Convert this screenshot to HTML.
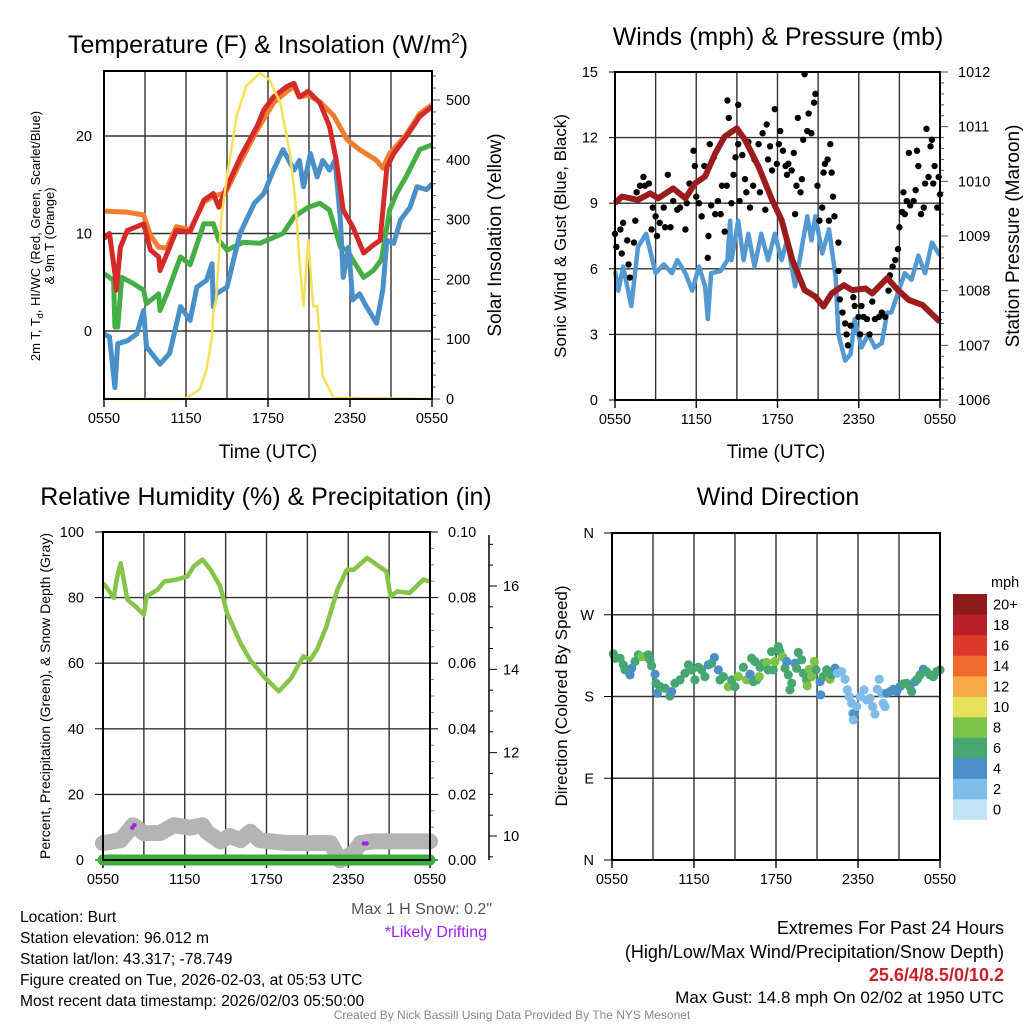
<!DOCTYPE html>
<html><head><meta charset="utf-8"><style>
html,body{margin:0;padding:0;background:#fff;}
svg{display:block;font-family:"Liberation Sans",Arial,sans-serif;}
</style></head><body>
<svg id="chart" width="1024" height="1024" viewBox="0 0 1024 1024" xmlns="http://www.w3.org/2000/svg">
<rect width="1024" height="1024" fill="#fff"/>
<g id="layer"></g>
<!-- titles -->
<text x="268" y="53" font-size="25" text-anchor="middle">Temperature (F) &amp; Insolation (W/m<tspan font-size="15" dy="-10">2</tspan><tspan dy="10">)</tspan></text>
<text x="778" y="45" font-size="25" text-anchor="middle">Winds (mph) &amp; Pressure (mb)</text>
<text x="266" y="505" font-size="25" text-anchor="middle">Relative Humidity (%) &amp; Precipitation (in)</text>
<text x="778" y="505" font-size="25" text-anchor="middle">Wind Direction</text>
<!-- axis titles -->
<text x="268" y="458" font-size="19" text-anchor="middle">Time (UTC)</text>
<text x="776" y="458" font-size="19" text-anchor="middle">Time (UTC)</text>
<text transform="translate(40,236) rotate(-90)" font-size="13" text-anchor="middle">2m T, T<tspan font-size="9" dy="3">d</tspan><tspan dy="-3">, HI/WC (Red, Green, Scarlet/Blue)</tspan></text>
<text transform="translate(54,236) rotate(-90)" font-size="13" text-anchor="middle">&amp; 9m T (Orange)</text>
<text transform="translate(501,235) rotate(-90)" font-size="19" text-anchor="middle">Solar Insolation (Yellow)</text>
<text transform="translate(566,236) rotate(-90)" font-size="17" text-anchor="middle">Sonic Wind &amp; Gust (Blue, Black)</text>
<text transform="translate(1019,236) rotate(-90)" font-size="19" text-anchor="middle">Station Pressure (Maroon)</text>
<text transform="translate(50,696) rotate(-90)" font-size="14" text-anchor="middle">Percent, Precipitation (Green), &amp; Snow Depth (Gray)</text>
<text transform="translate(567,696) rotate(-90)" font-size="17" text-anchor="middle">Direction (Colored By Speed)</text>
<!-- notes -->
<text x="492" y="914" font-size="16" fill="#555" text-anchor="end">Max 1 H Snow: 0.2"</text>
<text x="487" y="937" font-size="16" fill="#a020f0" text-anchor="end">*Likely Drifting</text>
<g font-size="15.6">
<text x="20" y="922">Location: Burt</text>
<text x="20" y="943">Station elevation: 96.012 m</text>
<text x="20" y="964">Station lat/lon: 43.317; -78.749</text>
<text x="20" y="985">Figure created on Tue, 2026-02-03, at 05:53 UTC</text>
<text x="20" y="1006">Most recent data timestamp: 2026/02/03 05:50:00</text>
</g>
<g font-size="18" text-anchor="end">
<text x="1004" y="934">Extremes For Past 24 Hours</text>
<text x="1004" y="958">(High/Low/Max Wind/Precipitation/Snow Depth)</text>
<text x="1004" y="981" fill="#c8202a" font-weight="bold">25.6/4/8.5/0/10.2</text>
<text x="1004" y="1003" font-size="17">Max Gust: 14.8 mph On 02/02 at 1950 UTC</text>
</g>
<text x="512" y="1019" font-size="12" fill="#888" text-anchor="middle">Created By Nick Bassill Using Data Provided By The NYS Mesonet</text>
</svg>
<script>
// ===== Panel 1 data (hours since 0550 UTC) =====
const tempHours=[0,0.4,0.8,0.9,1.2,1.7,2.9,3.4,4,4.1,4.6,5.3,6.3,7.3,8,8.4,8.9,10,11.2,11.7,12.4,13.4,13.9,14.3,14.95,15.8,16.5,17,17.5,18.2,19,19.7,20.2,20.7,21.2,22.1,23.1,24];
const tempValues=[9.5,10,5.9,4.2,8.6,10.3,11,8.3,7.6,6.2,7.9,10.3,10.2,13.4,14.1,12.7,14.5,17.9,21,22.7,24,25.1,25.4,24,24.6,23.4,21,17.5,12.4,10.7,8,8.8,9.3,16.8,18.2,19.9,22,23];
const t9Hours=[0,1.7,2.9,3.4,4,4.6,5.3,6.3,7.3,8,8.9,10,11.2,12.4,13.4,13.9,14.3,14.95,15.8,16.8,17.8,18.7,19.95,20.4,20.9,22.1,23.1,24];
const t9Values=[12.3,12.2,11.9,9.8,8.6,8.5,10.7,10.4,13.2,13.8,14.2,17.4,20.6,23.4,24.6,25.1,24,24.2,23.5,22.1,19.6,18.6,17.5,16.7,18.2,20.1,22.3,23.2];
const tdHours=[0,0.7,0.8,1,1.3,2.1,2.9,3.1,4,4.1,4.6,5.6,6.3,7.3,8,8.4,9,10.2,11.4,13.1,13.9,14.95,15.8,16.5,17.3,17.8,18.2,19,19.7,20.3,20.9,21.4,22.1,23.1,24];
const tdValues=[5.9,5.2,0.4,0.4,5.5,4.9,4.2,2.8,3.8,2.1,3.8,7.6,6.8,11,11,9.3,8.3,9.1,9,10,11.7,12.7,13.1,12.4,8.6,8.3,7.3,5.5,6.2,7.3,12.4,14.1,15.8,18.6,19.1];
const wcHours=[0,0.4,0.8,1,1.7,2.4,2.9,3.1,4.1,4.8,5.6,6.3,6.8,7.5,7.9,8,8.2,9,9.95,11,11.7,12.4,13.1,13.9,14.3,14.6,15.1,15.6,16,16.5,16.9,17.3,17.5,17.9,18.2,18.7,19.2,19.95,20.4,20.7,21.2,21.7,22.4,22.9,23.6,24];
const wcValues=[-0.3,-0.6,-5.8,-1.3,-1,-0.3,2.1,-1.6,-3.4,-2.3,2.5,1.1,4.5,5.2,6.9,2.5,3.8,4.5,10,13.1,14.1,16.5,18.6,16.5,17.5,14.8,18.2,15.8,17.5,16.5,17.5,11.4,5.5,8.6,3.2,3.8,2.5,0.8,4.2,9.3,9,11.4,12.7,14.8,14.5,15.1];
const solarHours=[0,5.9,7,7.5,7.9,8,8.2,8.6,9,9.7,10.4,11.4,12.1,12.9,13.6,14,14.3,14.6,14.95,15.3,15.6,16,16.8,24];
const solarValues=[0,0,16,49,105,144,166,305,372,473,523,545,534,495,411,333,233,155,266,155,155,38,2,0];
const tempTicks=[0,10,20];
const solarTicks=[0,100,200,300,400,500];
const timeTickLabels=["0550","1150","1750","2350","0550"];

// ===== Panel 2 data =====
const presHours=[0,0.5,1.7,2.6,3.2,4.3,5.2,5.9,6.65,7.4,8.1,9,9.6,10.6,11.6,12.3,13.1,14,14.8,15.4,16,16.9,17.5,18.5,19,20.1,20.9,21.7,22.7,24];
const presValues=[1009.6,1009.72,1009.66,1009.78,1009.69,1009.87,1009.69,1009.96,1010.09,1010.51,1010.82,1010.97,1010.76,1010.27,1009.66,1009.29,1008.56,1008.01,1007.89,1007.71,1007.95,1008.1,1008.01,1008.04,1007.95,1008.23,1008.01,1007.83,1007.74,1007.43];
const windHours=[0,0.25,0.6,1.2,1.7,2.3,3,3.6,4.2,4.6,5.2,5.7,6.2,6.65,6.85,7.1,7.8,8.3,8.5,8.6,9.1,9.5,9.85,10.3,10.8,11.3,11.8,12.3,12.7,13.3,13.8,14.2,14.5,14.8,15.3,15.8,16.3,16.5,17,17.4,17.7,18.2,18.7,19.2,19.7,20.1,20.4,20.9,21.4,21.9,22.4,22.9,23.4,24];
const windValues=[5.9,5,6.1,4.3,7,7.6,5.8,6.2,5.8,6.4,5.8,5,6.1,5.2,3.7,5.8,5.9,6.4,8.2,6.4,8.2,6.4,7.6,6.1,7.6,6.4,7.6,6.4,7.3,5.2,7,8.4,7.3,8.4,6.7,7.8,5.6,3,1.8,2.1,3.7,2.4,3,2.4,2.6,4,4,4.9,5.8,5.5,6.6,5.8,7.2,6.6];
const gustHours=[0,0.1,0.4,0.5,0.6,0.9,1,1.1,1.4,1.5,1.6,1.85,2.1,2.2,2.5,2.7,2.8,3,3.1,3.3,3.6,3.7,3.9,4.1,4.3,4.6,4.8,5.2,5.3,5.5,5.8,5.9,6,6.2,6.4,6.6,6.85,6.9,7.1,7,7.3,7.4,7.6,7.8,7.9,8.1,8.25,8.3,8.4,8.6,8.75,8.9,9.1,9.1,9.2,9.4,9.6,9.7,9.85,9.97,10.2,10.3,10.6,10.7,10.9,11.1,11.2,11.3,11.45,11.6,11.8,11.95,12.1,12.2,12.4,12.6,12.7,12.8,13.05,13.2,13.3,13.4,13.5,13.7,13.8,13.9,14,14.2,14.3,14.5,14.7,14.8,14.95,15.1,15.3,15.4,15.5,15.7,15.8,15.9,16,16.1,16.2,16.5,16.5,16.6,16.8,17,17.1,17.2,17.4,17.6,17.7,17.98,18.1,18.2,18.35,18.6,18.8,19,19.2,19.5,19.7,19.95,20.2,20.3,20.5,20.7,20.9,21,21.2,21.3,21.4,21.55,21.7,21.8,22.05,22.2,22.3,22.4,22.6,22.8,22.9,23,23.15,23.3,23.4,23.5,23.6,23.8,23.9,24];
const gustValues=[7.6,7,7.8,6.7,8.1,7.3,6.2,5.6,7.2,8.2,9.5,9.8,10.2,9.8,9.9,7.8,8.8,8.4,7.5,8.1,8.8,7.9,10.3,7.9,9.1,8.7,8.8,7.8,9,9.9,11.4,10.7,9.3,9,8.4,10.7,6.5,7.5,8.9,11.7,11.1,8.5,9.1,8.5,9.8,7.7,9.8,13.7,12.9,9,10.3,11.1,13.5,11.7,9.1,11.2,10.1,9.5,11.8,8.8,9.8,11,11.7,9.5,12.2,8.7,12.6,11,11.6,10.5,13.3,10.8,11.7,12.3,11.4,10.7,10.3,10.8,10.5,11.3,8.5,9.8,12.9,9.5,10.1,11.9,14.9,12.3,13.1,12.2,13.6,14,9.8,8.2,8.8,10.4,10.8,11,8.2,11.7,10.4,9.3,8.4,7.2,5.9,4.6,4,3.5,3,2.5,3.4,4.7,4.3,3.8,3,4.3,3.8,3.7,3,4.5,3.7,3.8,4,3.8,5,5.7,6.1,6.4,6.9,7.9,8.6,9.5,8.5,9.1,11.3,8.9,9.1,9.6,11.4,10.7,8.5,8.8,9.9,12.4,10.2,11.6,11.9,9.9,10.7,8.8,10.2,9.4];
const windTicks=[0,3,6,9,12,15];
const presTicks=[1006,1007,1008,1009,1010,1011,1012];

// ===== Panel 3 data =====
const rhHours=[0,0.3,0.8,1,1.3,1.8,2.4,3,3.2,4,4.5,5.4,6.2,6.65,7.3,7.9,8.6,9.1,10.1,10.8,11.8,12.9,13.8,14.7,15.2,15.7,16.4,17.2,17.9,18.4,19.4,20.1,20.8,21.1,21.6,22.5,23.5,24];
const rhValues=[84.4,82.9,79.9,85.5,90.5,79.3,77.3,74.8,80.4,82.4,84.9,85.5,86.5,89.5,91.6,88.5,83.4,75.3,66.1,61,55.9,51.4,55.4,62.1,61,64.1,71.2,82.4,88.5,88.5,92.1,90,88,80.4,81.9,81.4,85.5,84.9];
const snowHours=[0,1.3,2.2,3,4.2,5.2,6.4,7.3,7.6,8.6,9.3,10.1,10.8,11.5,13.5,16.7,17.4,18.4,18.9,19.8,24];
const snowValues=[9.83,9.9,10.26,10.07,10.07,10.26,10.2,10.26,10.1,9.87,10,9.9,10.1,9.9,9.83,9.83,9.42,9.6,9.83,9.87,9.87];
const precipHours=[0,24];
const precipValues=[0,0];
const driftHours=[2.15,2.3,19.15,19.35];
const driftValues=[10.2,10.26,9.82,9.82];
const rhTicks=[0,20,40,60,80,100];
const precipTicks=["0.00","0.02","0.04","0.06","0.08","0.10"];
const snowTicks=[10,12,14,16];

// ===== Panel 4 data =====
const wdHours=[0.1,0.22,0.59,0.83,0.95,1.32,1.44,1.68,1.93,2.17,2.41,2.66,2.78,2.9,3.15,3.22,3.32,3.51,3.88,4.24,4.37,4.61,4.98,5.34,5.59,5.83,6.07,6.32,6.56,6.8,7.05,7.29,7.49,7.78,7.9,8.15,8.51,8.76,9,9.24,9.61,9.85,10.1,10.34,10.59,10.78,10.22,10.46,10.83,11.07,11.32,11.44,11.68,11.8,11.93,12.17,12.29,12.49,12.66,12.78,12.9,13.15,13.02,13.39,13.51,13.63,13.88,14,14.24,14.29,14.44,14.61,14.8,14.93,15.22,15.27,15.46,15.71,15.95,16.07,16.32,16.49,16.8,17.05,17.22,17.37,17.54,17.61,17.71,17.66,17.9,18.15,18.44,18.63,18.88,19.07,19.24,19.41,19.56,19.73,19.85,19.98,20.1,20.34,20.59,20.83,21.07,21.32,21.56,21.8,21.93,22.17,22.34,22.54,22.78,23.02,23.27,23.51,23.76,24];
const wdDirs=[226.9,222.1,222.1,214.8,209.3,203.8,211.1,218.5,225.8,224,224,225.8,220.3,213.7,204.5,194.6,183.6,190.9,189.1,180.6,185.4,194.6,198.3,205.6,214.8,209.3,198.3,212.2,209.3,201.9,214.8,216.6,222.9,209.3,198.3,201.9,190.9,198.3,190.9,201.9,212.2,198.3,204.5,196.4,198.3,201.9,222.1,218.5,212.2,216.6,217.4,209.3,229.5,209.3,218.5,235,229.5,223.5,211.1,218.5,203.8,194.6,187.3,216.6,211.1,228.4,220.3,205.6,198.3,191.7,210,201.9,218.5,209.3,196.4,181.8,201.9,209.3,199,203.8,211.1,205.6,207.4,199,187.3,179.9,172.6,161.6,160.8,154.2,168.9,179.9,187.3,176.2,178.1,168.9,160.8,188,199,183.6,172.6,168.9,183.6,185.4,188,185.4,190.9,193.9,194.6,190.9,185.4,196.4,199,203.8,210,207.4,203.8,201.9,207.4,209.3];
const wdSpeeds=[6.5,6.5,6.5,6.5,6.5,4.5,4.5,6.5,6.5,8.5,8.5,6.5,6.5,6.5,4.5,6.5,4.5,6.5,6.5,6.5,4.5,6.5,6.5,6.5,6.5,6.5,6.5,6.5,6.5,6.5,4.5,6.5,4.5,4.5,6.5,6.5,8.5,6.5,6.5,8.5,6.5,8.5,4.5,6.5,6.5,8.5,6.5,6.5,6.5,6.5,8.5,6.5,6.5,6.5,8.5,6.5,6.5,8.5,6.5,4.5,6.5,6.5,6.5,4.5,6.5,6.5,6.5,6.5,6.5,8.5,8.5,8.5,8.5,6.5,4.5,4.5,6.5,6.5,8.5,6.5,4.5,2.5,2.5,2.5,2.5,2.5,2.5,2.5,4.5,2.5,2.5,2.5,2.5,2.5,2.5,2.5,2.5,2.5,2.5,2.5,2.5,2.5,4.5,4.5,4.5,4.5,4.5,6.5,6.5,6.5,6.5,4.5,6.5,6.5,4.5,6.5,6.5,6.5,6.5,6.5];
const dirTickLabels=["N","E","S","W","N"];
const speedBinLabels=["0","2","4","6","8","10","12","14","16","18","20+"];
const speedBinColors=["#c0e4f7","#7fbde8","#4a8fc8","#46a870","#7dc24b","#e6e05a","#f7a848","#f06a2e","#de3a2c","#b9202a","#8e1a1c"];

// ===== rendering =====
const NS="http://www.w3.org/2000/svg";
const root=document.getElementById('layer');
function el(tag,attrs,parent){const e=document.createElementNS(NS,tag);for(const k in attrs)e.setAttribute(k,attrs[k]);(parent||root).appendChild(e);return e;}
function txt(s,attrs,parent){const e=el('text',attrs,parent);e.textContent=s;return e;}
function lin(d0,d1,r0,r1){return v=>r0+(v-d0)/(d1-d0)*(r1-r0);}
function pathOf(xs,ys,fx,fy){return xs.map((h,i)=>(i?'L':'M')+fx(h).toFixed(1)+','+fy(ys[i]).toFixed(1)).join('');}

function frame(g,x0,y0,x1,y1,name){
  const r=el('rect',{x:x0,y:y0,width:x1-x0,height:y1-y0,fill:'none',stroke:'#000','stroke-width':2},g);
  
  
}
function timeGrid(g,fx,y0,y1){
  for(let h=3;h<24;h+=3){const l=el('line',{x1:fx(h),x2:fx(h),y1:y0,y2:y1,stroke:'#333','stroke-width':1.4},g);
    
    }
  timeTickLabels.forEach((s,i)=>{const h=i*6;
    el('line',{x1:fx(h),x2:fx(h),y1:y1,y2:y1+8,stroke:'#000','stroke-width':1.4},g);
    const t=txt(s,{x:fx(h),y:y1+24,'font-size':14.5,'text-anchor':'middle'},g);
    
    });
}
function hgrid(g,x0,x1,y,name){const l=el('line',{x1:x0,x2:x1,y1:y,y2:y,stroke:'#333','stroke-width':1.4},g);
  
  }

// Panel 1
(function(){
  const g=el('g',{});
  
  
  const X0=104,X1=432,Y0=71,Y1=399;
  const fx=lin(0,24,X0,X1), fy=lin(0,20,331,136), fs=lin(0,500,399,100);
  timeGrid(g,fx,Y0,Y1);
  tempTicks.forEach(v=>{hgrid(g,X0,X1,fy(v),'temp-gridline');
    const t=txt(String(v),{x:X0-12,y:fy(v)+5,'font-size':14.5,'text-anchor':'end'},g);
    
    });
  for(let v=0;v<=540;v+=20){el('line',{x1:X1,x2:X1+(v%100?4:8),y1:fs(v),y2:fs(v),stroke:'#555','stroke-width':1},g);}
  solarTicks.forEach(v=>{const t=txt(String(v),{x:X1+14,y:fs(v)+5,'font-size':14.5},g);
    
    });
  let p=el('path',{d:pathOf(t9Hours,t9Values,fx,fy),fill:'none',stroke:'#f07e2c','stroke-width':5,'stroke-linejoin':'round'},g);
  
  
  p=el('path',{d:pathOf(tdHours,tdValues,fx,fy),fill:'none',stroke:'#45ae45','stroke-width':5,'stroke-linejoin':'round'},g);
  
  
  p=el('path',{d:pathOf(wcHours,wcValues,fx,fy),fill:'none',stroke:'#4a90c8','stroke-width':5,'stroke-linejoin':'round'},g);
  
  
  p=el('path',{d:pathOf(tempHours,tempValues,fx,fy),fill:'none',stroke:'#d42a2a','stroke-width':5,'stroke-linejoin':'round'},g);
  
  
  p=el('path',{d:pathOf(solarHours,solarValues,fx,fs),fill:'none',stroke:'#f7df5a','stroke-width':2.5,'stroke-linejoin':'round'},g);
  
  
  frame(g,X0,Y0,X1,Y1,'temperature-plot-frame');
})();

// Panel 2
(function(){
  const g=el('g',{});
  
  
  const X0=615,X1=940,Y0=72,Y1=400;
  const fx=lin(0,24,X0,X1), fy=lin(0,15,Y1,Y0), fp=lin(1006,1012,Y1,Y0);
  timeGrid(g,fx,Y0,Y1);
  windTicks.forEach(v=>{if(v>0&&v<15)hgrid(g,X0,X1,fy(v),'wind-gridline');
    el('line',{x1:X0-6,x2:X0,y1:fy(v),y2:fy(v),stroke:'#000'},g);
    const t=txt(String(v),{x:X0-17,y:fy(v)+5,'font-size':14.5,'text-anchor':'end'},g);
    
    });
  for(let v=1006;v<=1012.01;v+=0.2){el('line',{x1:X1,x2:X1+(Math.abs(v-Math.round(v))<0.01?8:4),y1:fp(v),y2:fp(v),stroke:'#555'},g);}
  presTicks.forEach(v=>{const t=txt(String(v),{x:X1+18,y:fp(v)+5,'font-size':14.5},g);
    
    });
  let p=el('path',{d:pathOf(windHours,windValues,fx,fy),fill:'none',stroke:'#5499d2','stroke-width':4.5,'stroke-linejoin':'round'},g);
  
  
  gustHours.forEach((h,i)=>{const c=el('circle',{cx:fx(h),cy:fy(gustValues[i]),r:3.2,fill:'#000'},g);
    
    });
  p=el('path',{d:pathOf(presHours,presValues,fx,fp),fill:'none',stroke:'#9b1c1c','stroke-width':6,'stroke-linejoin':'round'},g);
  
  
  frame(g,X0,Y0,X1,Y1,'wind-plot-frame');
})();

// Panel 3
(function(){
  const g=el('g',{});
  
  
  const X0=103,X1=430,Y0=532,Y1=860;
  const fx=lin(0,24,X0,X1), fy=lin(0,100,Y1,Y0), fsn=lin(10,16,836,586);
  timeGrid(g,fx,Y0,Y1);
  rhTicks.forEach((v,i)=>{if(v>0&&v<100)hgrid(g,X0,X1,fy(v),'humidity-gridline');
    el('line',{x1:X0-8,x2:X0,y1:fy(v),y2:fy(v),stroke:'#000'},g);
    const t=txt(String(v),{x:X0-19,y:fy(v)+5,'font-size':14.5,'text-anchor':'end'},g);
    
    
    el('line',{x1:X1,x2:X1+8,y1:fy(v),y2:fy(v),stroke:'#000'},g);
    const t2=txt(precipTicks[i],{x:X1+18,y:fy(v)+5,'font-size':14.5},g);
    
    });
  for(let v=0;v<=100;v+=5){if(v%20)el('line',{x1:X1,x2:X1+4,y1:fy(v),y2:fy(v),stroke:'#777'},g);}
  const ax=el('line',{x1:489,x2:489,y1:Y0+3,y2:Y1,stroke:'#000','stroke-width':1.5},g);
  
  
  for(let v=9.5;v<=17;v+=0.5){el('line',{x1:489,x2:489+(v%2===0?8:4),y1:fsn(v),y2:fsn(v),stroke:'#000'},g);}
  snowTicks.forEach(v=>{const t=txt(String(v),{x:503,y:fsn(v)+5,'font-size':14.5},g);
    
    });
  let p=el('path',{d:pathOf(snowHours,snowValues,fx,fsn),fill:'none',stroke:'#b4b4b4','stroke-width':16,'stroke-linejoin':'round','stroke-linecap':'round'},g);
  
  
  const fpr=lin(0,0.1,Y1,Y0);
  p=el('path',{d:pathOf(precipHours,precipValues,fx,fpr),fill:'none',stroke:'#3aae3a','stroke-width':11,'stroke-linecap':'round'},g);
  
  
  p=el('path',{d:pathOf(rhHours,rhValues,fx,fy),fill:'none',stroke:'#86c44a','stroke-width':4.5,'stroke-linejoin':'round'},g);
  
  
  driftHours.forEach((h,i)=>{const c=el('circle',{cx:fx(h),cy:fsn(driftValues[i]),r:2.2,fill:'#a020f0'},g);
    
    });
  frame(g,X0,Y0,X1,Y1,'humidity-plot-frame');
})();

// Panel 4
(function(){
  const g=el('g',{});
  
  
  const X0=612,X1=940,Y0=533,Y1=860;
  const fx=lin(0,24,X0,X1), fy=lin(0,360,Y1,Y0);
  timeGrid(g,fx,Y0,Y1);
  dirTickLabels.forEach((s,i)=>{const v=i*90;if(i>0&&i<4)hgrid(g,X0,X1,fy(v),'direction-gridline');
    el('line',{x1:X0-8,x2:X0,y1:fy(v),y2:fy(v),stroke:'#000'},g);
    const t=txt(s,{x:X0-18,y:fy(v)+5,'font-size':14.5,'text-anchor':'end'},g);
    
    });
  const binOf=s=>Math.max(0,Math.min(10,Math.floor(s/2)));
  wdHours.forEach((h,i)=>{const c=el('circle',{cx:fx(h),cy:fy(wdDirs[i]),r:4.6,fill:speedBinColors[binOf(wdSpeeds[i])]},g);
    
    });
  frame(g,X0,Y0,X1,Y1,'direction-plot-frame');
  const cb=el('g',{},g);
  
  
  const bh=20.5, top=594;
  speedBinLabels.forEach((s,i)=>{const k=10-i; const y=top+k*bh;
    const r=el('rect',{x:953,y:y,width:34,height:bh+0.3,fill:speedBinColors[i]},cb);
    
    
    const t=txt(s,{x:993,y:y+bh/2+5,'font-size':14.5},cb);
    
    });
  const m=txt('mph',{x:991,y:587,'font-size':14.5},cb);
  
  
})();
</script>
</body></html>
